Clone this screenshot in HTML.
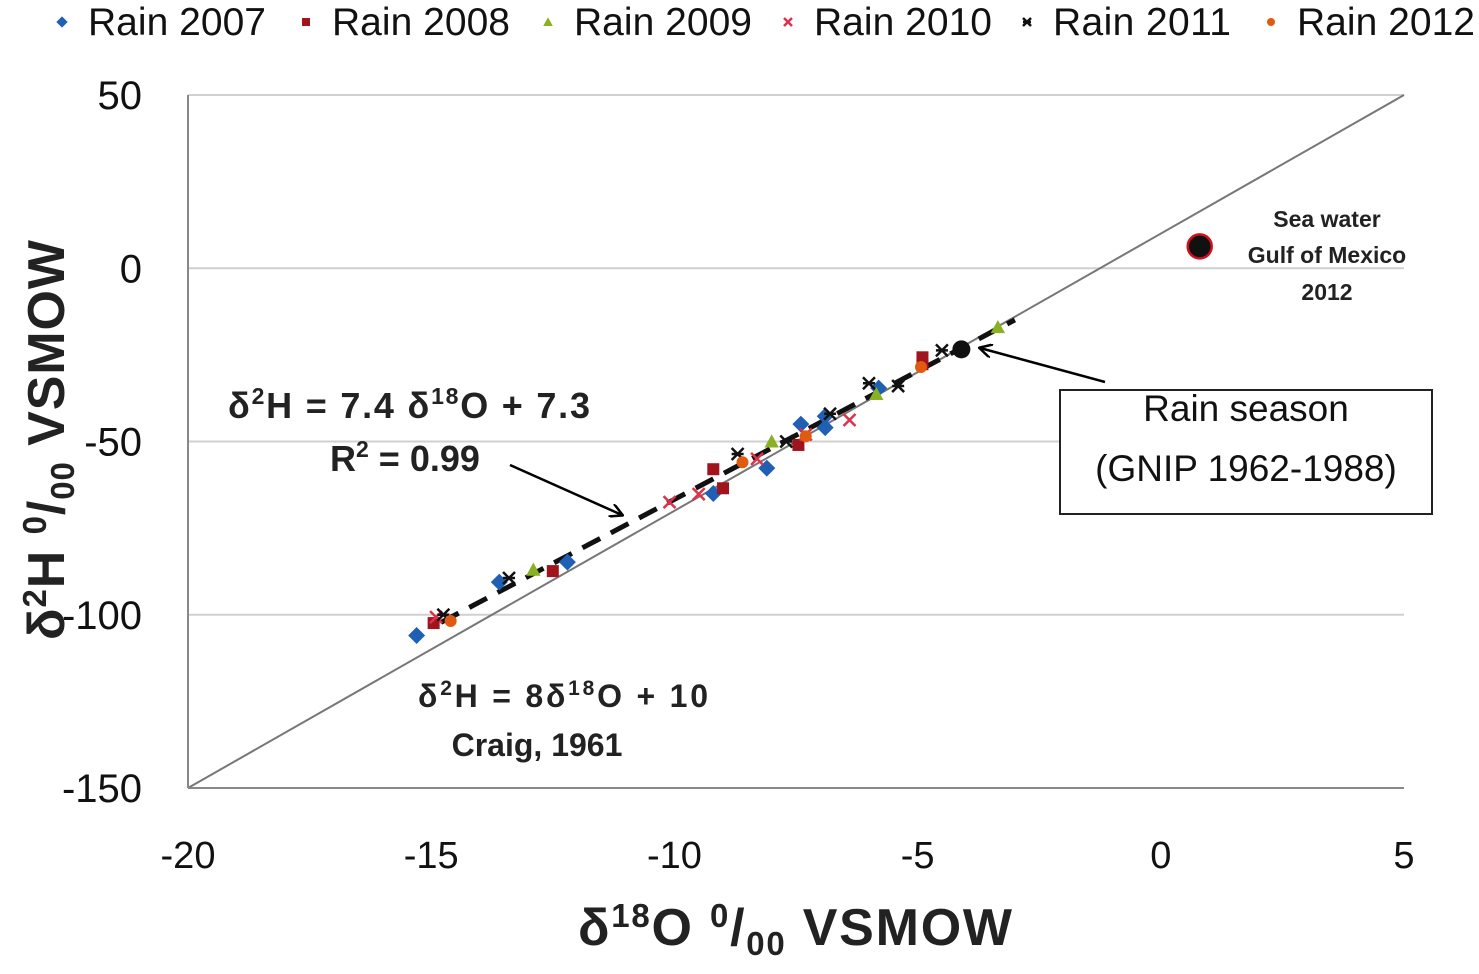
<!DOCTYPE html>
<html><head><meta charset="utf-8"><style>
body{margin:0;background:#fff;font-family:"Liberation Sans",sans-serif}
svg text{font-family:"Liberation Sans",sans-serif}
</style></head><body>
<svg id="c" width="1479" height="969" viewBox="0 0 1479 969" xmlns="http://www.w3.org/2000/svg">
<defs>
<marker id="ah" markerWidth="14" markerHeight="14" refX="12" refY="7" orient="auto" markerUnits="userSpaceOnUse"><path d="M0,0 L13,7 L0,14" fill="none" stroke="#000" stroke-width="2.5"/></marker>
</defs>
<g id="grid"></g>
<g id="lines"></g>
<g id="pts"></g>
<g id="axes"></g>
<g id="legend"></g>
<g font-weight="bold" fill="#222">
<text x="228" y="418" font-size="36" textLength="362" lengthAdjust="spacing">δ<tspan font-size="23" dy="-14">2</tspan><tspan dy="14">H = 7.4 δ</tspan><tspan font-size="23" dy="-14">18</tspan><tspan dy="14">O + 7.3</tspan></text>
<text x="330" y="471" font-size="36">R<tspan font-size="23" dy="-14">2</tspan><tspan dy="14"> = 0.99</tspan></text>
<line x1="510" y1="465" x2="622" y2="515" stroke="#000" stroke-width="2.5" marker-end="url(#ah)"/>
<text x="418" y="707" font-size="32" textLength="290" lengthAdjust="spacing">δ<tspan font-size="21" dy="-12">2</tspan><tspan dy="12">H  = 8δ</tspan><tspan font-size="21" dy="-12">18</tspan><tspan dy="12">O  + 10</tspan></text>
<text x="537" y="756" font-size="32" text-anchor="middle">Craig, 1961</text>
<text x="1327" y="227" font-size="23" text-anchor="middle">Sea water</text>
<text x="1327" y="263" font-size="23" text-anchor="middle">Gulf of Mexico</text>
<text x="1327" y="300" font-size="23" text-anchor="middle">2012</text>
</g>
<rect x="1060" y="390" width="372" height="124" fill="#fff" stroke="#222" stroke-width="2"/>
<text x="1246" y="421" font-size="37" text-anchor="middle" fill="#111">Rain season</text>
<text x="1246" y="481" font-size="37" text-anchor="middle" fill="#111">(GNIP 1962-1988)</text>
<line x1="1105" y1="382" x2="980" y2="348" stroke="#000" stroke-width="2.5" marker-end="url(#ah)"/>
</svg>
<script>
const xTicks=[-20,-15,-10,-5,0,5];
const yTicks=[50,0,-50,-100,-150];
const seriesNames=["Rain 2007","Rain 2008","Rain 2009","Rain 2010","Rain 2011","Rain 2012"];
const rain2007=[[-15.3,-106],[-13.6,-90.6],[-12.2,-84.8],[-9.2,-65],[-8.1,-57.7],[-7.4,-45],[-6.9,-46],[-5.8,-34.6],[-6.9,-42.7]];
const rain2008=[[-14.95,-102.4],[-12.5,-87.4],[-9.2,-58],[-9.0,-63.5],[-7.45,-51],[-4.9,-25.7],[-4.9,-27.7]];
const rain2009=[[-12.9,-87],[-8.0,-50],[-5.85,-36.3],[-3.35,-17]];
const rain2010=[[-14.9,-100.7],[-10.1,-67.5],[-9.5,-65.2],[-8.3,-55],[-6.4,-43.8],[-7.3,-48]];
const rain2011=[[-14.75,-100],[-13.4,-89.4],[-8.7,-53.6],[-6.0,-33.2],[-5.4,-34],[-4.5,-23.7],[-6.8,-42],[-7.7,-50]];
const rain2012=[[-14.6,-101.8],[-8.6,-56],[-4.93,-28.5],[-7.3,-48.5]];
const rainSeason=[-4.1,-23.4];
const seaWater=[0.8,6.3];
const regSlope=7.4, regInt=7.3, regRange=[-14.8,-3.0];
const gmwlSlope=8, gmwlInt=10;

const NS="http://www.w3.org/2000/svg";
const L=188,R=1404,T=95,B=788;
const sx=v=>L+(v+20)/25*(R-L);
const sy=v=>T+(50-v)/200*(B-T);
function mk(tag,attrs,parent){const e=document.createElementNS(NS,tag);for(const k in attrs)e.setAttribute(k,attrs[k]);parent.appendChild(e);return e;}
const grid=document.getElementById('grid'),axes=document.getElementById('axes'),lines=document.getElementById('lines'),pts=document.getElementById('pts'),leg=document.getElementById('legend');
yTicks.forEach(v=>{
 if(v>-150){const g=mk('line',{x1:L,x2:R,y1:sy(v),y2:sy(v),stroke:'#d0d0d0','stroke-width':2},grid);
 
 }
 const t=mk('text',{x:142,y:sy(v)+14,'font-size':40,'text-anchor':'end',fill:'#111'},axes);t.textContent=v;
 
 
});
xTicks.forEach(v=>{
 const t=mk('text',{x:sx(v),y:868,'font-size':38,'text-anchor':'middle',fill:'#111'},axes);t.textContent=v;
 
 
});
const ya=mk('line',{x1:L,x2:L,y1:T,y2:B,stroke:'#888','stroke-width':2},axes);


const xa=mk('line',{x1:L,x2:R,y1:B,y2:B,stroke:'#888','stroke-width':2},axes);


const xt=mk('text',{x:795,y:945,'font-size':52,'font-weight':'bold','text-anchor':'middle',fill:'#222',textLength:434,lengthAdjust:'spacing'},axes);
xt.innerHTML='δ<tspan font-size="33" dy="-18">18</tspan><tspan dy="18">O </tspan><tspan font-size="33" dy="-18">0</tspan><tspan dy="18">/</tspan><tspan font-size="33" dy="10">00</tspan><tspan dy="-10"> VSMOW</tspan>';


const yt=mk('text',{x:0,y:0,'font-size':52,'font-weight':'bold','text-anchor':'middle',fill:'#222',transform:'translate(64,440) rotate(-90)',textLength:400,lengthAdjust:'spacing'},axes);
yt.innerHTML='δ<tspan font-size="33" dy="-18">2</tspan><tspan dy="18">H </tspan><tspan font-size="33" dy="-18">0</tspan><tspan dy="18">/</tspan><tspan font-size="33" dy="10">00</tspan><tspan dy="-10"> VSMOW</tspan>';


const gm=mk('line',{x1:sx(-20),y1:sy(gmwlSlope*-20+gmwlInt),x2:sx(5),y2:sy(gmwlSlope*5+gmwlInt),stroke:'#777','stroke-width':2},lines);


const rg=mk('line',{x1:sx(regRange[0]),y1:sy(regSlope*regRange[0]+regInt),x2:sx(regRange[1]),y2:sy(regSlope*regRange[1]+regInt),stroke:'#111','stroke-width':5,'stroke-dasharray':'20 12'},lines);


const colors=['#1f5fb4','#a0141e','#8ab024','#e0304a','#111','#e05a10'];
function marker(k,x,y,s,parent){
 let e;
 if(k==0)e=mk('rect',{x:x-s,y:y-s,width:2*s,height:2*s,fill:colors[0],transform:`rotate(45 ${x} ${y})`},parent);
 else if(k==1)e=mk('rect',{x:x-s,y:y-s,width:2*s,height:2*s,fill:colors[1]},parent);
 else if(k==2)e=mk('path',{d:`M${x},${y-s*1.2}L${x+s*1.2},${y+s}L${x-s*1.2},${y+s}Z`,fill:colors[2]},parent);
 else if(k==3)e=mk('path',{d:`M${x-s},${y-s}L${x+s},${y+s}M${x+s},${y-s}L${x-s},${y+s}`,stroke:colors[3],'stroke-width':2.5},parent);
 else if(k==4)e=mk('path',{d:`M${x-s},${y-s}L${x+s},${y+s}M${x+s},${y-s}L${x-s},${y+s}M${x-s},${y}L${x+s},${y}`,stroke:colors[4],'stroke-width':2.5},parent);
 else e=mk('circle',{cx:x,cy:y,r:s,fill:colors[5]},parent);
 return e;
}
[rain2007,rain2008,rain2009,rain2010,rain2011,rain2012].forEach((arr,k)=>{
 arr.forEach(p=>{
  const e=marker(k,sx(p[0]),sy(p[1]),6,pts);
  
  
 });
});
const rs=mk('circle',{cx:sx(rainSeason[0]),cy:sy(rainSeason[1]),r:9,fill:'#111'},pts);


const sw=mk('circle',{cx:sx(seaWater[0]),cy:sy(seaWater[1]),r:12,fill:'#111',stroke:'#d01020','stroke-width':2.5},pts);


const lx=[62,306,548,788,1027,1271];
seriesNames.forEach((n,k)=>{
 const m=marker(k,lx[k],22,4,leg);
 
 
 const t=mk('text',{x:lx[k]+26,y:35,'font-size':39,fill:'#111',textLength:178,lengthAdjust:'spacing'},leg);t.textContent=n;
 
 
});
</script>
</body></html>
